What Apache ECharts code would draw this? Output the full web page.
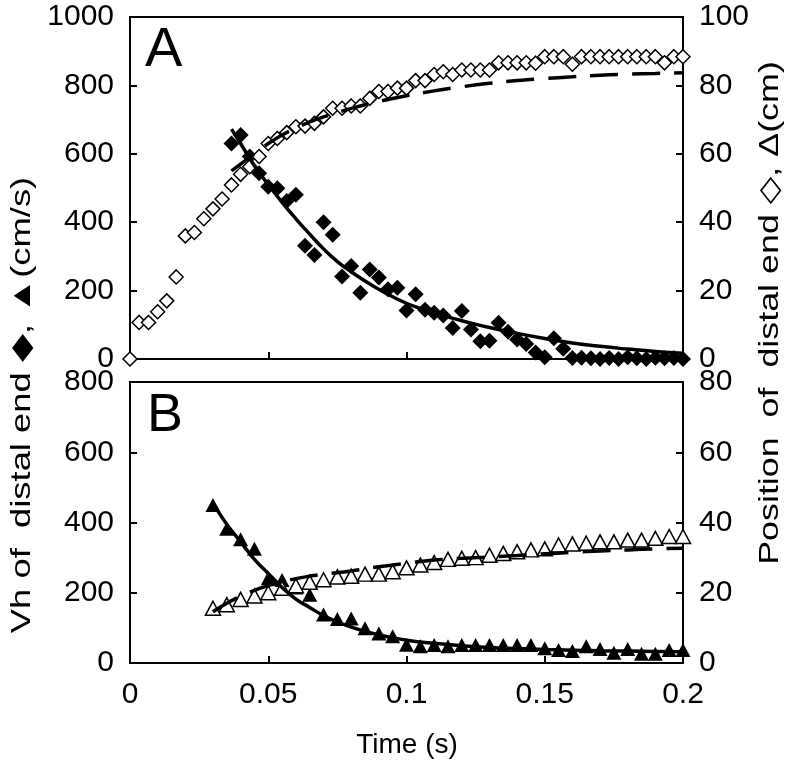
<!DOCTYPE html>
<html>
<head>
<meta charset="utf-8">
<script src="https://cdn.jsdelivr.net/npm/echarts@6/dist/echarts.min.js"></script>
<style>html,body{margin:0;padding:0;background:#fff}#c{width:794px;height:767px}</style>
</head>
<body>
<div id="c"></div>
<script>
// ---------- Panel A (300 Hz samples) ----------
var tA = [0, 0.0033, 0.0067, 0.01, 0.0133, 0.0167, 0.02, 0.0233, 0.0267, 0.03,
  0.0333, 0.0367, 0.04, 0.0433, 0.0467, 0.05, 0.0533, 0.0567, 0.06, 0.0633,
  0.0667, 0.07, 0.0733, 0.0767, 0.08, 0.0833, 0.0867, 0.09, 0.0933, 0.0967,
  0.1, 0.1033, 0.1067, 0.11, 0.1133, 0.1167, 0.12, 0.1233, 0.1267, 0.13,
  0.1333, 0.1367, 0.14, 0.1433, 0.1467, 0.15, 0.1533, 0.1567, 0.16, 0.1633,
  0.1667, 0.17, 0.1733, 0.1767, 0.18, 0.1833, 0.1867, 0.19, 0.1933, 0.1967, 0.2];
// position of distal end (cm), open diamonds
var posA = [0, 10.7, 10.7, 13.8, 17, 24, 36, 37, 41, 43.9,
  46.8, 50.9, 54, 56.2, 59.2, 63, 64.5, 66.2, 67.9, 68.1,
  68.9, 70.8, 73.3, 73.3, 74, 74, 76.2, 78.2, 78.2, 79.2,
  79.2, 81.4, 81.4, 83.2, 84, 83.2, 84.5, 84.5, 84.5, 84.5,
  86.6, 86.6, 86.6, 86.6, 86.5, 88.4, 88.4, 88.4, 86.2, 88.4,
  88.4, 88.4, 88.4, 88.4, 88.4, 88.4, 88.4, 88.4, 86.6, 88.4, 88.4];
// Vh of distal end (cm/s), filled diamonds
var velA = [null, null, null, null, null, null, null, null, null, null,
  null, 630, 655, 592, 543, 504, 499, 462, 480, 331,
  304, 400, 363, 241, 272, 194, 262, 238, 204, 208,
  142, 189, 144, 135, 127, 91, 140, 86, 52, 53,
  106, 80, 57, 44, 19, 5, 61, 30, 3, 4,
  2, 0, 3, 0, 5, 2, 0, 4, 2, 3, 0];
// fitted curves A
var fitVelAT = [0.0367, 0.04, 0.045, 0.05, 0.055, 0.06, 0.065, 0.07, 0.075, 0.08, 0.085, 0.09, 0.095, 0.1, 0.105, 0.11, 0.115, 0.12, 0.13, 0.14, 0.15, 0.16, 0.17, 0.18, 0.19, 0.2];
var fitVelAV = [672, 630, 565, 510, 458, 410, 365, 322, 285, 255, 228, 204, 182, 163, 148, 135, 123, 112, 92, 75, 60, 47, 37, 29, 22, 17];
var fitPosAT = [0.0367, 0.04, 0.045, 0.05, 0.055, 0.06, 0.065, 0.07, 0.075, 0.08, 0.09, 0.1, 0.11, 0.12, 0.13, 0.14, 0.15, 0.16, 0.17, 0.18, 0.19, 0.2];
var fitPosAV = [55, 57, 60, 63, 65.5, 67.5, 69.3, 70.8, 72, 73.3, 75.3, 77, 78.4, 79.6, 80.6, 81.4, 82, 82.5, 83, 83.3, 83.5, 83.7];

// ---------- Panel B (200 Hz samples) ----------
var tB = [0.03, 0.035, 0.04, 0.045, 0.05, 0.055, 0.06, 0.065, 0.07, 0.075,
  0.08, 0.085, 0.09, 0.095, 0.1, 0.105, 0.11, 0.115, 0.12, 0.125,
  0.13, 0.135, 0.14, 0.145, 0.15, 0.155, 0.16, 0.165, 0.17, 0.175,
  0.18, 0.185, 0.19, 0.195, 0.2];
var velB = [450, 382, 352, 325, 241, 236, 215, 194, 138, 125,
  127, 99, 84, 76, 52, 48, 51, 48, 51, 51,
  51, 51, 51, 51, 42, 37, 34, 48, 40, 29,
  40, 26, 26, 37, 37];
var posB = [15.6, 16.6, 18.1, 19.1, 20, 21.3, 22, 23, 23.7, 24.5,
  24.7, 25.3, 25.3, 26, 27.1, 27.9, 28.6, 29.5, 29.8, 30,
  30.7, 31.2, 31.7, 32.2, 32.5, 33.6, 33.9, 34.1, 34.5, 34.5,
  35, 35, 35.5, 36, 36];
var fitVelBT = [0.03, 0.035, 0.04, 0.045, 0.05, 0.055, 0.06, 0.065, 0.07, 0.075, 0.08, 0.085, 0.09, 0.095, 0.1, 0.11, 0.12, 0.13, 0.14, 0.15, 0.16, 0.17, 0.18, 0.19, 0.2];
var fitVelBV = [455, 395, 345, 295, 255, 215, 182, 158, 135, 117, 102, 90, 80, 72, 65, 56, 49, 44, 41, 38.5, 36.5, 35, 34, 33, 32];
var fitPosBT = [0.03, 0.035, 0.04, 0.045, 0.05, 0.055, 0.06, 0.065, 0.07, 0.08, 0.09, 0.1, 0.11, 0.12, 0.13, 0.14, 0.15, 0.16, 0.17, 0.18, 0.19, 0.2];
var fitPosBV = [14.6, 17, 19, 20.7, 22, 23.1, 24, 24.7, 25.3, 26.2, 27.4, 28.4, 29.3, 29.8, 30.2, 30.6, 31.1, 31.5, 31.9, 32.2, 32.5, 32.7];

// label texts
var leftTitle = 'Vh of  distal end \u25C6, \u25B2(cm/s)';
var rightTitle = 'Position  of  distal end \u25C7, \u0394(cm)';
var xTitle = 'Time (s)';

function pairs(ts, vs) {
  var out = [];
  for (var i = 0; i < ts.length; i++) { if (vs[i] !== null) out.push([ts[i], vs[i]]); }
  return out;
}

var FONT = 'Liberation Sans, Arial, sans-serif';
var tickFont = { color: '#000', fontSize: 30, fontFamily: FONT };
function xAx(gi, showLabel) {
  return {
    type: 'value', gridIndex: gi, min: 0, max: 0.2, interval: 0.05,
    axisLine: { show: true, onZero: false, lineStyle: { color: '#000', width: 2 } },
    axisTick: { show: true, inside: true, length: 7, lineStyle: { color: '#000', width: 2 } },
    axisLabel: Object.assign({ show: showLabel, margin: 17, formatter: function (v) { return String(+v.toFixed(2)); } }, tickFont),
    splitLine: { show: false }
  };
}
function yAx(gi, pos, max, step) {
  return {
    type: 'value', gridIndex: gi, position: pos, min: 0, max: max, interval: step,
    axisLine: { show: true, onZero: false, lineStyle: { color: '#000', width: 2 } },
    axisTick: { show: true, inside: true, length: 7, lineStyle: { color: '#000', width: 2 } },
    axisLabel: Object.assign({ margin: 16, formatter: function (v) { return String(v); } }, tickFont),
    splitLine: { show: false }
  };
}

var chart = echarts.init(document.getElementById('c'), null, { renderer: 'canvas' });
chart.setOption({
  animation: false,
  backgroundColor: '#fff',
  grid: [
    { left: 130, right: 111, top: 17, height: 342, show: true, borderColor: '#000', borderWidth: 2, backgroundColor: 'transparent' },
    { left: 130, right: 111, top: 382, height: 281, show: true, borderColor: '#000', borderWidth: 2, backgroundColor: 'transparent' }
  ],
  xAxis: [xAx(0, false), xAx(1, true)],
  yAxis: [yAx(0, 'left', 1000, 200), yAx(0, 'right', 100, 20), yAx(1, 'left', 800, 200), yAx(1, 'right', 80, 20)],
  series: [
    { type: 'scatter', xAxisIndex: 0, yAxisIndex: 0, data: pairs(tA, velA), symbol: 'diamond', symbolSize: 16, clip: false, z: 2,
      itemStyle: { color: '#000', opacity: 1 } },
    { type: 'scatter', xAxisIndex: 0, yAxisIndex: 1, data: pairs(tA, posA), symbol: 'diamond', symbolSize: 14, clip: false, z: 3,
      itemStyle: { color: '#fff', borderColor: '#000', borderWidth: 1.5, opacity: 1 } },
    { type: 'line', xAxisIndex: 0, yAxisIndex: 0, data: pairs(fitVelAT, fitVelAV), showSymbol: false, smooth: true, z: 4,
      lineStyle: { color: '#000', width: 3.5 } },
    { type: 'line', xAxisIndex: 0, yAxisIndex: 1, data: pairs(fitPosAT, fitPosAV), showSymbol: false, smooth: true, z: 4,
      lineStyle: { color: '#000', width: 3.5, type: [28, 14] } },

    { type: 'scatter', xAxisIndex: 1, yAxisIndex: 2, data: pairs(tB, velB), symbol: 'triangle', symbolSize: [15, 14], clip: false, z: 2,
      itemStyle: { color: '#000', opacity: 1 } },
    { type: 'scatter', xAxisIndex: 1, yAxisIndex: 3, data: pairs(tB, posB), symbol: 'triangle', symbolSize: [15, 14], clip: false, z: 3,
      itemStyle: { color: '#fff', borderColor: '#000', borderWidth: 1.5, opacity: 1 } },
    { type: 'line', xAxisIndex: 1, yAxisIndex: 2, data: pairs(fitVelBT, fitVelBV), showSymbol: false, smooth: true, z: 4,
      lineStyle: { color: '#000', width: 3.5 } },
    { type: 'line', xAxisIndex: 1, yAxisIndex: 3, data: pairs(fitPosBT, fitPosBV), showSymbol: false, smooth: true, z: 4,
      lineStyle: { color: '#000', width: 3.5, type: [28, 14] } }
  ],
  graphic: [
    { type: 'text', x: 145, y: 51, style: { text: 'A', fontSize: 56, fontFamily: FONT, fill: '#000', verticalAlign: 'middle', align: 'left' } },
    { type: 'text', x: 147, y: 416, style: { text: 'B', fontSize: 54, fontFamily: FONT, fill: '#000', verticalAlign: 'middle', align: 'left' } },
    { type: 'text', x: 407, y: 745, style: { text: xTitle, fontSize: 28, fontFamily: FONT, fill: '#000', verticalAlign: 'middle', align: 'center' } },
    { type: 'text', x: 22, y: 405, rotation: Math.PI / 2, scaleX: 1.3, style: { text: leftTitle, fontSize: 28, fontFamily: FONT + ', DejaVu Sans', fill: '#000', verticalAlign: 'middle', align: 'center' } },
    { type: 'text', x: 770, y: 313, rotation: Math.PI / 2, scaleX: 1.28, style: { text: rightTitle, fontSize: 28, fontFamily: FONT + ', DejaVu Sans', fill: '#000', verticalAlign: 'middle', align: 'center' } }
  ]
});
</script>
</body>
</html>
